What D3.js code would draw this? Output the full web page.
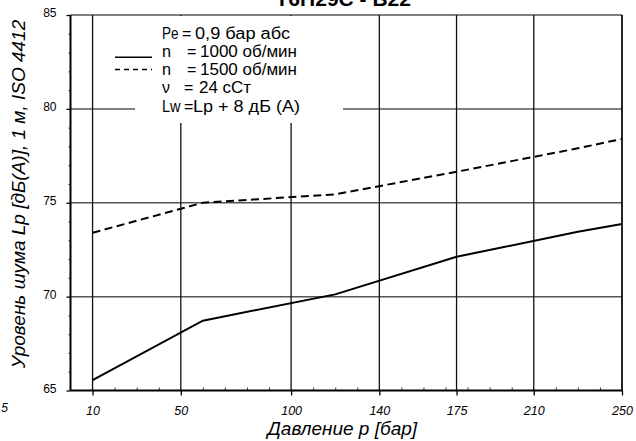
<!DOCTYPE html>
<html><head><meta charset="utf-8">
<script src="https://cdn.jsdelivr.net/npm/d3@7/dist/d3.min.js"></script>
<style>body{margin:0;background:#fff}svg{display:block}text{font-family:"Liberation Sans",Arial,sans-serif}</style>
</head><body><svg id="c" width="636" height="441"></svg>
<script>
const pressures = [10, 60, 120, 175, 230, 250];
const noise1000 = [65.55, 68.72, 70.12, 72.12, 73.45, 73.87];
const noise1500 = [73.4, 75.0, 75.45, 76.65, 77.9, 78.4];
const xTickValues = [10, 50, 100, 140, 175, 210, 250];
const yTickValues = [65, 70, 75, 80, 85];
const yGridValues = [70, 75, 80];
const legendKeys = ["Pe", "n", "n", "ν", "Lw"];
const legendValues = ["0,9 бар абс", "1000 об/мин", "1500 об/мин", "24 cСт", "Lp + 8 дБ (A)"];
const legendSamples = [null, "solid", "dashed", null, null];
const title = "T6H29C - B22";
const xTitle = "Давление p [бар]";
const yTitle = "Уровень шума Lp [дБ(A)], 1 м, ISO 4412";

const svg = d3.select("#c");
const L = 70.5, R = 622, T = 15, B = 390.5;
const x = d3.scaleLinear().domain([0, 250]).range([L, R]);
const y = d3.scaleLinear().domain([65, 85]).range([B, T]);

// horizontal grid
svg.append("g").selectAll("line").data(yGridValues.concat([85])).join("line")
  .attr("x1", L).attr("x2", R).attr("y1", d => y(d)).attr("y2", d => y(d))
  .attr("stroke", "#555").attr("stroke-width", 1.5);
// vertical grid
svg.append("g").selectAll("line").data(xTickValues).join("line")
  .attr("x1", d => x(d)).attr("x2", d => x(d)).attr("y1", T).attr("y2", B)
  .attr("stroke", "#111").attr("stroke-width", 1.3);

// legend background
svg.append("rect").attr("x", 135).attr("y", T + 1).attr("width", 208).attr("height", 107).attr("fill", "#fff");

// series
const line = d3.line().x(d => x(d[0])).y(d => y(d[1]));
svg.append("path").datum(pressures.map((p, i) => [p, noise1000[i]]))
  .attr("d", line).attr("fill", "none").attr("stroke", "#000").attr("stroke-width", 2);
svg.append("path").datum(pressures.map((p, i) => [p, noise1500[i]]))
  .attr("d", line).attr("fill", "none").attr("stroke", "#000").attr("stroke-width", 2)
  .attr("stroke-dasharray", "8,4.5");

// axes
const minorX = d3.range(20, 250, 10).filter(v => !xTickValues.includes(v));
svg.append("g").attr("transform", `translate(0,${B})`)
  .call(d3.axisBottom(x).tickValues(minorX).tickSize(-3).tickFormat(""))
  .call(g => g.select(".domain").remove())
  .call(g => g.selectAll("line").attr("stroke", "#333").attr("stroke-width", 1));
const minorY = d3.range(66, 85, 1).filter(v => !yTickValues.includes(v));
svg.append("g").attr("transform", `translate(${L},0)`)
  .call(d3.axisLeft(y).tickValues(minorY).tickSize(2).tickFormat(""))
  .call(g => g.select(".domain").remove())
  .call(g => g.selectAll("line").attr("stroke", "#333").attr("stroke-width", 1));

const xa = svg.append("g").attr("transform", `translate(0,${B})`)
  .call(d3.axisBottom(x).tickValues(xTickValues).tickSize(5).tickSizeOuter(0).tickPadding(11));
xa.select(".domain").attr("stroke-width", 2).attr("d", `M${L},0H${R}`);
xa.selectAll("line").attr("stroke-width", 1.3);
xa.selectAll("text").attr("font-style", "italic").attr("fill", "#000")
  .attr("font-family", "'DejaVu Sans',sans-serif").attr("font-size", 12.5);

const ya = svg.append("g").attr("transform", `translate(${L},0)`)
  .call(d3.axisLeft(y).tickValues(yTickValues).tickSize(4).tickSizeOuter(0).tickPadding(10));
ya.select(".domain").attr("stroke-width", 2).attr("d", `M0,${T}V${B}`);
ya.selectAll("line").attr("stroke-width", 1.3);
ya.selectAll("text").attr("font-size", 12).attr("fill", "#000").attr("dy", "0.15em")
  .attr("font-family", "'DejaVu Sans',sans-serif");

// right border
svg.append("line").attr("x1", R).attr("x2", R).attr("y1", T).attr("y2", B).attr("stroke", "#111").attr("stroke-width", 1.5);

// title
svg.append("text").attr("x", (L + R) / 2 - 3).attr("y", 6).attr("text-anchor", "middle")
  .attr("font-size", 21).attr("font-weight", "bold").text(title);
// axis titles
svg.append("text").attr("x", (L + R) / 2 - 4).attr("y", 435).attr("text-anchor", "middle")
  .attr("font-size", 19).attr("font-style", "italic").text(xTitle);
svg.append("text").attr("transform", `translate(25,${194}) rotate(-90)`).attr("text-anchor", "middle")
  .attr("font-size", 19).attr("font-style", "italic").text(yTitle);
// stray label at the left edge
svg.append("text").attr("x", 8).attr("y", 412).attr("text-anchor", "end")
  .attr("font-size", 12).attr("font-style", "italic").attr("font-family", "'DejaVu Sans',sans-serif").text("5");

// legend
const keyW = [16.5, 9, 9, 8, 18.5];
const eqX = [182, 187, 187, 184, 184];
const valX = [195, 200, 200, 199, 193];
const valW = [95, 97, 97, 52, 107];
const lg = svg.append("g").attr("font-size", 16);
legendKeys.forEach((k, i) => {
  const by = 38.5 + i * 18.3;
  lg.append("text").attr("x", 162).attr("y", by)
    .attr("textLength", keyW[i]).attr("lengthAdjust", "spacingAndGlyphs").text(k);
  lg.append("text").attr("x", eqX[i]).attr("y", by).text("=");
  lg.append("text").attr("x", valX[i]).attr("y", by)
    .attr("textLength", valW[i]).attr("lengthAdjust", "spacingAndGlyphs").text(legendValues[i]);
  const s = legendSamples[i];
  if (s) {
    const ly = s === "solid" ? by + 0.5 : by - 5.5;
    lg.append("line").attr("x1", 115).attr("x2", 152).attr("y1", ly).attr("y2", ly)
      .attr("stroke", "#000").attr("stroke-width", 1.5)
      .attr("stroke-dasharray", s === "dashed" ? "5,4" : null);
  }
});
</script></body></html>
